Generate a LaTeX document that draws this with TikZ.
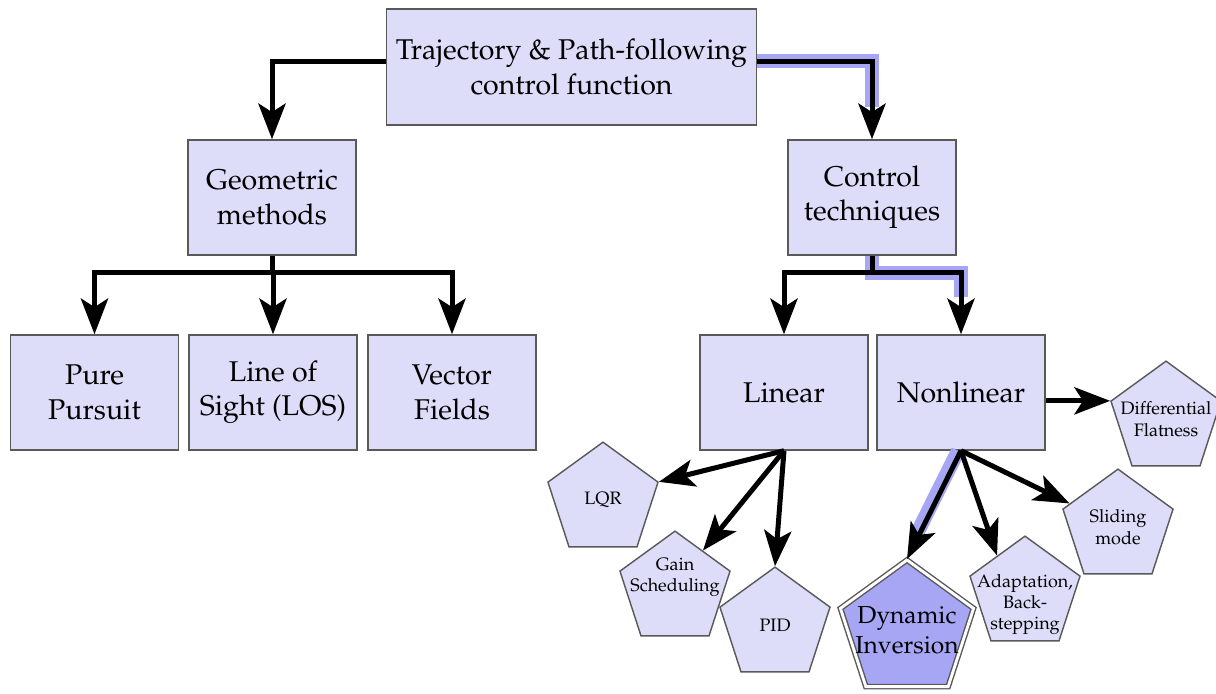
\documentclass[tikz,border=0pt]{standalone}
\usepackage[T1]{fontenc}
\usepackage{mathpazo}
\usetikzlibrary{shapes.geometric,arrows.meta,calc}
\definecolor{boxfill}{RGB}{221,221,250}
\definecolor{hlblue}{RGB}{166,166,245}

\begin{document}
\begin{tikzpicture}[x=0.35pt,y=0.35pt,
                box/.style={rectangle,draw=black!65,line width=0.5pt,fill=boxfill,align=center,minimum width=58.8pt,minimum height=40.25pt},
                pent/.style={regular polygon,regular polygon sides=5,draw=black!65,line width=0.5pt,fill=boxfill,minimum size=40.5pt,inner sep=0pt},
                plbl/.style={align=center,font=\fontsize{6.3}{7.5}\selectfont},
                link/.style={line width=1.75pt,-{Stealth[length=12.5pt,width=9.5pt,inset=3pt]}},
                hl/.style={line width=5pt,hlblue}
            ]
                \useasboundingbox (0,0) rectangle (1216,-693);

                \node[box,minimum width=128.45pt,minimum height=40.6pt] (tpf) at (571.5,-67) {Trajectory \& Path-following\\control function};
                \node[box] (geo) at (272,-197.5) {Geometric\\methods};
                \node[box] (ctrl) at (872,-197.5) {Control\\techniques};
                \node[box] (pp) at (94.5,-392.5) {Pure\\Pursuit};
                \node[box] (los) at (273,-392.5) {Line of\\Sight (LOS)};
                \node[box] (vf) at (452,-392.5) {Vector\\Fields};
                \node[box] (lin) at (784,-392.5) {Linear};
                \node[box] (nl) at (961,-392.5) {Nonlinear};

                \node[pent,label={[plbl]center:LQR}] (lqr) at (603,-500) { };
                \node[pent,label={[plbl,yshift=4pt]center:{Gain\\Scheduling}}] (gs) at (675,-589) { };
                \node[pent,label={[plbl]center:PID}] (pid) at (775,-625) { };
                \node[pent,label={[plbl]center:{Differential\\Flatness}}] (df) at (1166,-419) { };
                \node[pent,label={[plbl]center:{Sliding\\mode}}] (sm) at (1118,-527) { };
                \node[pent,label={[plbl,yshift=-3.7pt]center:{Adaptation,\\Back-\\stepping}}] (ab) at (1025,-594) { };
                \node[pent,double,double distance=1pt,fill=hlblue,minimum size=49pt,
                      label={[align=center,font=\fontsize{8.6}{10.5}\selectfont]center:{Dynamic\\Inversion}}] (di) at (907,-630) { };

                % highlighted route
                \draw[hl] ([yshift=2pt]tpf.east) -| ($(ctrl.north)+(0,32)$);
                \draw[hl] (ctrl.south) -- ++(0,-17) -| ($(nl.north)+(0,37)$);
                \draw[hl] ([xshift=-1pt]nl.south) -- ($([xshift=-1pt]nl.south)!0.75!([xshift=-1pt]di.corner 1)$);

                \draw[link] ([yshift=2pt]tpf.west) -| (geo.north);
                \draw[link] ([yshift=2pt]tpf.east) -| (ctrl.north);
                \draw[link] (geo.south) -- ++(0,-17) -| (pp.north);
                \draw[link] (geo.south) -- ++(0,-17) -| (los.north);
                \draw[link] (geo.south) -- ++(0,-17) -| (vf.north);
                \draw[link] (ctrl.south) -- ++(0,-17) -| (lin.north);
                \draw[link] (ctrl.south) -- ++(0,-17) -| (nl.north);

                \draw[link] (lin.south) -- (lqr.corner 5);
                \draw[link] (lin.south) -- (gs.side 5);
                \draw[link] (lin.south) -- (pid.corner 1);
                \draw[link] (nl.south) -- (di.corner 1);
                \draw[link] (nl.south) -- (ab.side 1);
                \draw[link] (nl.south) -- (sm);
                \draw[link] (nl.east |- df.corner 2) -- (df.corner 2);

            \end{tikzpicture}
\end{document}
